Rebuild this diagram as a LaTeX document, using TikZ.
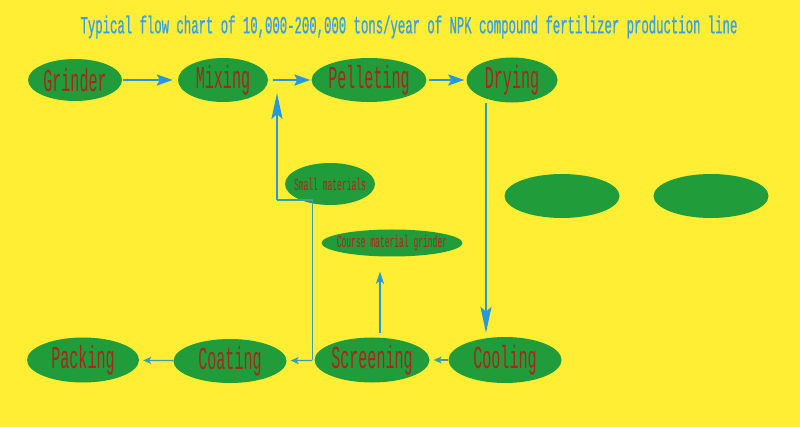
\documentclass[tikz,border=0pt]{standalone}
\usepackage{fontspec}
\newfontfamily\chartfont[FakeStretch=0.47]{Liberation Mono}
\newfontfamily\headfont[FakeStretch=0.5,FakeBold=0.6]{Liberation Mono}
\usepackage{tikz}
\usetikzlibrary{positioning}
\usetikzlibrary{shapes.geometric}
\usetikzlibrary{arrows.meta}

\definecolor{paper}{RGB}{255,238,51}
\definecolor{leaf}{RGB}{33,156,58}
\definecolor{brick}{RGB}{165,40,30}
\definecolor{flowblue}{RGB}{38,152,222}
\definecolor{linkteal}{RGB}{60,158,172}
\definecolor{titleblue}{RGB}{55,160,232}

\begin{document}
\begin{tikzpicture}[x=1pt,y=-1pt,
  stage/.style={ellipse,fill=leaf,text=brick,inner sep=0pt,
    font=\chartfont\fontsize{32}{32}\selectfont},
  substage/.style={stage,font=\chartfont\fontsize{17}{17}\selectfont},
  flow/.style={draw=flowblue,line width=2.4pt,-{Stealth[length=16pt,width=11pt,inset=3pt]}},
  longflow/.style={draw=flowblue,line width=2.4pt,-{Stealth[length=26pt,width=11pt,inset=5pt]}},
  thinflow/.style={draw=linkteal,line width=1.3pt,-{Stealth[length=8pt,width=7pt,inset=2pt]}},
  thinlink/.style={draw=linkteal,line width=1.3pt}]
\useasboundingbox (0,0) rectangle (800,427);
\fill[paper] (0,0) rectangle (800,427);

\node[text=titleblue,font=\headfont\fontsize{24.6}{24.6}\selectfont] (title) at (409,27)
  {Typical flow chart of 10,000-200,000 tons/year of NPK compound fertilizer production line};

% top row
\node[stage,minimum width=94pt,minimum height=42pt] (grinder) at (75,80) {Grinder};
\node[stage,minimum width=90pt,minimum height=44pt] (mixing) at (223,80) {Mixing};
\node[stage,minimum width=93pt,minimum height=44pt] (pelleting) at (369,80) {Pelleting};
\node[stage,minimum width=91pt,minimum height=45pt] (drying) at (512,80) {Drying};

% middle
\node[substage,minimum width=90pt,minimum height=42pt] (smallmat) at (330,184)
  {\makebox[0pt]{Small materials}};
\node[substage,minimum width=141pt,minimum height=27pt] (coursegr) at (392,243)
  {\makebox[0pt]{Course material grinder}};
\node[stage,minimum width=115pt,minimum height=44pt] (sidea) at (562,196) {};
\node[stage,minimum width=115pt,minimum height=44pt] (sideb) at (711,196) {};

% bottom row
\node[stage,minimum width=112pt,minimum height=45pt] (packing) at (83,360) {Packing};
\node[stage,minimum width=113pt,minimum height=44pt] (coating) at (230,361) {Coating};
\node[stage,minimum width=113pt,minimum height=45pt] (screening) at (372,360) {Screening};
\node[stage,minimum width=113pt,minimum height=46pt] (cooling) at (505,360) {Cooling};

\coordinate (back) at (277,200);
\coordinate (retmix) at (277,93);

\draw[flow,shorten <=1pt,shorten >=5pt] (grinder) -- (mixing);
\draw[flow,shorten <=5pt,shorten >=1pt] (mixing) -- (pelleting);
\draw[flow,shorten <=2pt,shorten >=2pt] (pelleting) -- (drying);
\draw[longflow,shorten >=4pt] ([xshift=-26pt]drying.south) -- ([xshift=-19pt]cooling.north);
\draw[thinflow,shorten <=0pt,shorten >=4pt] (cooling) -- (screening);
\draw[thinflow,shorten <=2pt,shorten >=4pt] (screening) -- (coating);
\draw[thinflow,shorten >=4pt] (coating) -- (packing);
\draw[thinlink] ([xshift=-2pt]screening.west) |- (back);
\draw[longflow] (back) -- (retmix);
\draw[flow,-{Stealth[length=12pt,width=8pt,inset=3pt]},line width=2pt,shorten <=4pt,shorten >=15pt]
  ([xshift=8pt]screening.north) -- ([xshift=-12pt]coursegr.south);
\end{tikzpicture}
\end{document}
